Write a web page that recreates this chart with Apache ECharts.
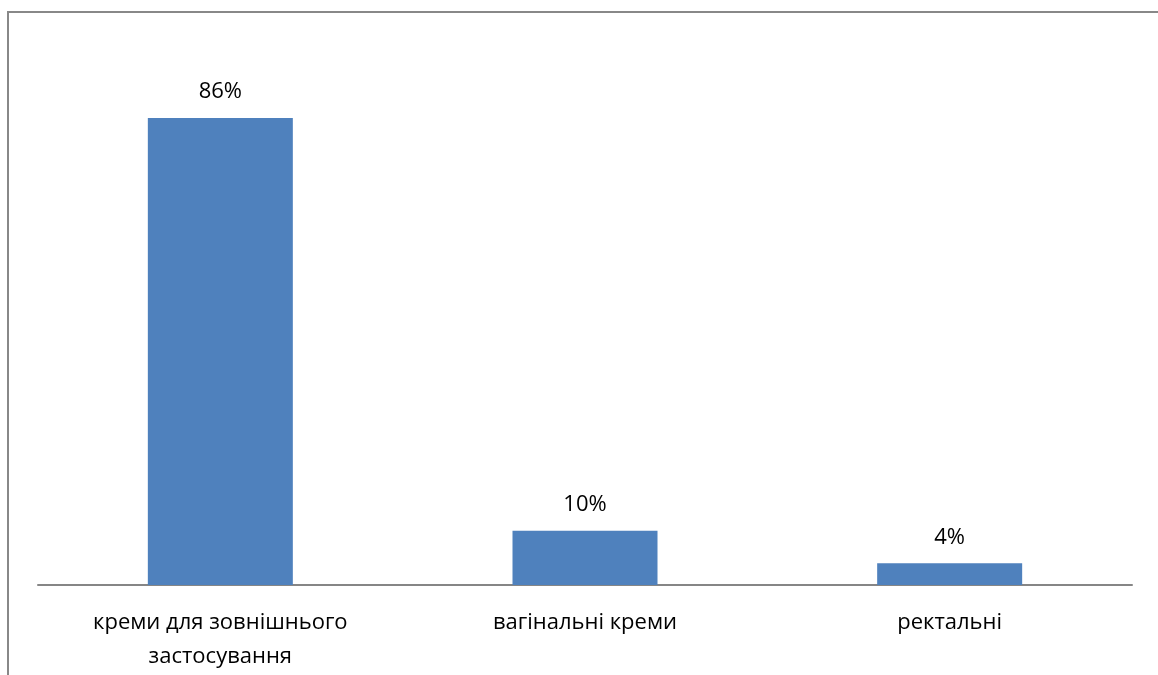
<!DOCTYPE html>
<html>
<head>
<meta charset="utf-8">
<script src="https://cdn.jsdelivr.net/npm/echarts@6/dist/echarts.min.js"></script>
<style>
  html, body { margin: 0; padding: 0; background: #fff; }
  #chart { width: 1158px; height: 675px; }
</style>
</head>
<body>
<div id="chart"></div>
<script>
// Shares of cream forms (percent)
const categories = ['креми для зовнішнього\nзастосування', 'вагінальні креми', 'ректальні'];
const shares = [86, 10, 4];

const FONT = '"Open Sans", "Noto Sans", sans-serif';

const chart = echarts.init(document.getElementById('chart'), null, { renderer: 'canvas' });
chart.setOption({
  animation: false,
  backgroundColor: '#ffffff',
  graphic: [{
    type: 'rect',
    shape: { x: 8, y: 12, width: 1300, height: 800 },
    style: { fill: 'none', stroke: '#888888', lineWidth: 2 },
    silent: true
  }],
  grid: { left: 38, right: 26, top: 42, bottom: 90, containLabel: false },
  xAxis: {
    type: 'category',
    data: categories,
    axisLine: { show: true, lineStyle: { color: '#868686', width: 2 } },
    axisTick: { show: false },
    axisLabel: {
      color: '#000000',
      fontFamily: FONT,
      fontSize: 22,
      lineHeight: 34,
      margin: 21,
      interval: 0
    }
  },
  yAxis: {
    type: 'value',
    min: 0,
    max: 100,
    show: false,
    splitLine: { show: false }
  },
  series: [{
    type: 'bar',
    data: shares,
    barWidth: 145,
    itemStyle: { color: '#4F81BD' },
    label: {
      show: true,
      position: 'top',
      distance: 15,
      formatter: '{c}%',
      color: '#000000',
      fontFamily: FONT,
      fontSize: 22
    }
  }]
});
</script>
</body>
</html>
